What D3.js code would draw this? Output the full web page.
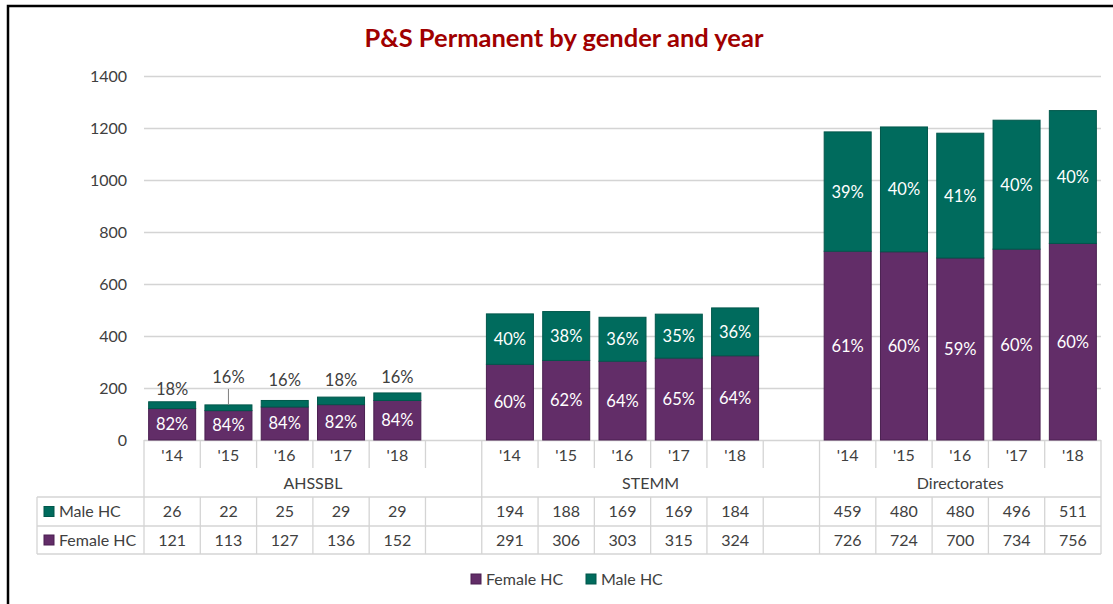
<!DOCTYPE html>
<html>
<head>
<meta charset="utf-8">
<script src="https://cdn.jsdelivr.net/npm/d3@7"></script>
<style>
  html, body { margin: 0; padding: 0; background: #fff; }
  svg { display: block; font-family: Lato, "Open Sans", sans-serif; }
</style>
</head>
<body>
<svg id="chart" width="1113" height="604"></svg>
<script>
// ---- data ----
const groups = ["AHSSBL", "STEMM", "Directorates"];
const years = ["'14", "'15", "'16", "'17", "'18"];
const maleHC = [
  [26, 22, 25, 29, 29],
  [194, 188, 169, 169, 184],
  [459, 480, 480, 496, 511]
];
const femaleHC = [
  [121, 113, 127, 136, 152],
  [291, 306, 303, 315, 324],
  [726, 724, 700, 734, 756]
];
const seriesNames = ["Female HC", "Male HC"];
const yTicks = [0, 200, 400, 600, 800, 1000, 1200, 1400];

// ---- layout ----
const W = 1113, H = 604;
const plot = { left: 144, right: 1101, top: 76, bottom: 440 };
const table = { left: 37, yearRow: 468, groupRow: 497, maleRow: 526, femaleRow: 554 };
const colors = { female: "#622D68", male: "#006B5D", femaleEdge: "#4A1F50", maleEdge: "#00574B" };
const textColor = "#404040";
const lineColor = "#D4D4D4";
// lift of the small "male" percent labels sitting above the short bars
const liftAbove = [13, 28, 20, 17, 16];

const svg = d3.select("#chart");

// frame
svg.append("path")
  .attr("d", `M8,${H} V6 H${W}`)
  .attr("fill", "none").attr("stroke", "#000").attr("stroke-width", 2.5);

// title
svg.append("text")
  .attr("x", 564).attr("y", 47)
  .attr("text-anchor", "middle")
  .attr("font-size", 25.5).attr("font-weight", 700)
  .attr("fill", "#A00000")
  .text("P&S Permanent by gender and year");

// category slots: five years per group, with an empty slot between groups
const slots = [];
groups.forEach((g, gi) => {
  years.forEach((yr, yi) => slots.push({
    key: g + "|" + yr, group: g, gi, yi, year: yr,
    female: femaleHC[gi][yi], male: maleHC[gi][yi]
  }));
  if (gi < groups.length - 1) slots.push({ key: g + "|gap", group: g, gi, yi: -1, year: "", empty: true });
});
const barSlots = slots.filter(s => !s.empty);

const x = d3.scaleBand()
  .domain(slots.map(s => s.key))
  .range([plot.left, plot.right])
  .paddingInner(0.165)
  .paddingOuter(0.0825);
const y = d3.scaleLinear().domain([0, 1400]).range([plot.bottom, plot.top]);
const slotStart = k => x(k) - (x.step() - x.bandwidth()) / 2;

// y axis with gridlines
const yAxis = svg.append("g")
  .attr("transform", `translate(${plot.left},0)`)
  .call(d3.axisLeft(y).tickValues(yTicks).tickSize(-(plot.right - plot.left)).tickPadding(17).tickFormat(d3.format("d")));
yAxis.select(".domain").remove();
yAxis.selectAll(".tick line").attr("stroke", lineColor).attr("stroke-width", 1.3);
yAxis.selectAll(".tick text")
  .attr("font-size", 16).attr("fill", textColor)
  .attr("font-family", "Lato, 'Open Sans', sans-serif");

// stacked bars
const stack = d3.stack().keys(["female", "male"]);
const layers = stack(barSlots);
const fills = { female: colors.female, male: colors.male };
const edges = { female: colors.femaleEdge, male: colors.maleEdge };

svg.append("g").selectAll("g")
  .data(layers).join("g")
  .attr("fill", d => fills[d.key])
  .attr("stroke", d => edges[d.key])
  .attr("stroke-width", 1)
  .selectAll("rect")
  .data(d => d).join("rect")
  .attr("x", d => x(d.data.key))
  .attr("width", x.bandwidth())
  .attr("y", d => y(d[1]))
  .attr("height", d => y(d[0]) - y(d[1]));

// percent labels
const pct = (v, s) => Math.round(v / (s.female + s.male) * 100) + "%";
const labels = svg.append("g")
  .attr("font-size", 16.5)
  .attr("text-anchor", "middle");

layers.forEach(layer => {
  layer.forEach(d => {
    const s = d.data;
    const cx = x(s.key) + x.bandwidth() / 2;
    const segH = y(d[0]) - y(d[1]);
    const txt = pct(s[layer.key], s);
    if (segH >= 22) {
      labels.append("text")
        .attr("x", cx).attr("y", (y(d[0]) + y(d[1])) / 2)
        .attr("dy", "0.36em")
        .attr("fill", "#fff")
        .text(txt);
    } else {
      const lift = liftAbove[s.yi];
      const top = y(d[1]);
      const ly = top - lift;
      if (lift > 22) {
        labels.append("line")
          .attr("x1", cx).attr("x2", cx)
          .attr("y1", ly + 12).attr("y2", top)
          .attr("stroke", "#7F7F7F").attr("stroke-width", 1);
      }
      labels.append("text")
        .attr("x", cx).attr("y", ly)
        .attr("dy", "0.36em")
        .attr("fill", textColor)
        .text(txt);
    }
  });
});

// ---- data table under the axis ----
const tbl = svg.append("g").attr("stroke", lineColor).attr("stroke-width", 1.3);
const tText = svg.append("g").attr("font-size", 16).attr("fill", textColor).attr("text-anchor", "middle");

// horizontal rules
[table.groupRow, table.maleRow, table.femaleRow].forEach(yy => {
  tbl.append("line").attr("x1", table.left).attr("x2", plot.right).attr("y1", yy).attr("y2", yy);
});
// left edge of the legend column
tbl.append("line").attr("x1", table.left).attr("x2", table.left).attr("y1", table.groupRow).attr("y2", table.femaleRow);

// vertical rules at every slot boundary
slots.forEach((s, i) => {
  const bx = slotStart(s.key);
  const groupEdge = i === 0 || slots[i - 1].gi !== s.gi;
  tbl.append("line").attr("x1", bx).attr("x2", bx)
    .attr("y1", plot.bottom).attr("y2", groupEdge ? table.femaleRow : table.yearRow);
  if (!groupEdge) {
    tbl.append("line").attr("x1", bx).attr("x2", bx).attr("y1", table.groupRow).attr("y2", table.femaleRow);
  }
});
tbl.append("line").attr("x1", plot.right).attr("x2", plot.right).attr("y1", plot.bottom).attr("y2", table.femaleRow);

// year labels and table values
barSlots.forEach(s => {
  const cx = x(s.key) + x.bandwidth() / 2;
  tText.append("text").attr("x", cx).attr("y", (plot.bottom + table.yearRow) / 2 + 1).attr("dy", "0.36em").text(s.year);
  tText.append("text").attr("x", cx).attr("y", (table.groupRow + table.maleRow) / 2).attr("dy", "0.36em").text(s.male);
  tText.append("text").attr("x", cx).attr("y", (table.maleRow + table.femaleRow) / 2).attr("dy", "0.36em").text(s.female);
});

// group labels
groups.forEach((g, gi) => {
  const gs = slots.filter(s => s.gi === gi);
  const x0 = slotStart(gs[0].key);
  const x1 = gi === groups.length - 1 ? plot.right : slotStart(gs[gs.length - 1].key) + x.step();
  tText.append("text").attr("x", (x0 + x1) / 2).attr("y", (table.yearRow + table.groupRow) / 2 + 1).attr("dy", "0.36em").text(g);
});

// row headers with series keys
const rowHeads = [
  { name: seriesNames[1], fill: colors.male, edge: colors.maleEdge, yy: (table.groupRow + table.maleRow) / 2 },
  { name: seriesNames[0], fill: colors.female, edge: colors.femaleEdge, yy: (table.maleRow + table.femaleRow) / 2 }
];
rowHeads.forEach(r => {
  svg.append("rect").attr("x", 44).attr("y", r.yy - 5).attr("width", 10).attr("height", 10)
    .attr("fill", r.fill).attr("stroke", r.edge).attr("stroke-width", 1);
  svg.append("text").attr("x", 59).attr("y", r.yy).attr("dy", "0.36em")
    .attr("font-size", 16).attr("fill", textColor).text(r.name);
});

// bottom legend
const legendItems = [
  { name: seriesNames[0], fill: colors.female, edge: colors.femaleEdge, x: 471 },
  { name: seriesNames[1], fill: colors.male, edge: colors.maleEdge, x: 586 }
];
legendItems.forEach(l => {
  svg.append("rect").attr("x", l.x).attr("y", 574).attr("width", 10).attr("height", 10)
    .attr("fill", l.fill).attr("stroke", l.edge).attr("stroke-width", 1);
  svg.append("text").attr("x", l.x + 15).attr("y", 579).attr("dy", "0.36em")
    .attr("font-size", 16).attr("fill", textColor).text(l.name);
});
</script>
</body>
</html>
